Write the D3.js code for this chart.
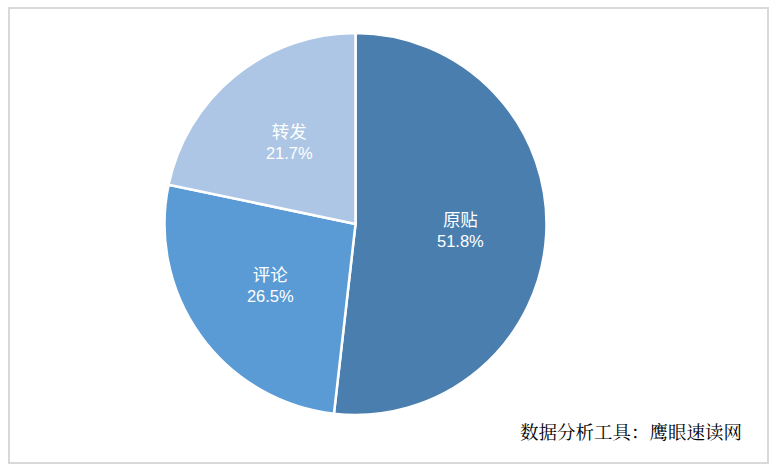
<!DOCTYPE html>
<html><head><meta charset="utf-8">
<script src="https://cdn.jsdelivr.net/npm/d3@7"></script>
<style>html,body{margin:0;padding:0;background:#fff;}</style>
</head><body>
<svg id="chart" width="779" height="476"></svg>
<script>
const categories = ["原贴", "评论", "转发"];
const values = [51.8, 26.5, 21.7];
const colors = ["#4a7eaf", "#5b9bd5", "#adc6e5"];
const sourceNote = "数据分析工具：鹰眼速读网";

const svg = d3.select("#chart");
svg.append("rect").attr("x", 9).attr("y", 8).attr("width", 759).attr("height", 455)
  .attr("fill", "#fff").attr("stroke", "#d9d9d9").attr("stroke-width", 2);

const cx = 355.5, cy = 224, r = 191;
const g = svg.append("g").attr("transform", `translate(${cx},${cy})`);
const data = categories.map((c, i) => ({ name: c, value: values[i], color: colors[i] }));
const pie = d3.pie().value(d => d.value).sort(null);
const arcs = pie(data);
const arc = d3.arc().innerRadius(0).outerRadius(r);
g.selectAll("path").data(arcs).join("path")
  .attr("d", arc).attr("fill", d => d.data.color)
  .attr("stroke", "#fff").attr("stroke-width", 2.5).attr("stroke-linejoin", "round");

const labelArc = d3.arc().innerRadius(r * 0.55).outerRadius(r * 0.55);
arcs.forEach(a => {
  const [x, y] = labelArc.centroid(a);
  const t = g.append("text").attr("text-anchor", "middle").attr("fill", "#fff");
  t.append("tspan").attr("x", x).attr("y", y - 4)
    .style("font-family", "'Noto Sans CJK SC', sans-serif").style("font-size", "17.5px")
    .text(a.data.name);
  t.append("tspan").attr("x", x).attr("y", y + 17)
    .style("font-family", "'Liberation Sans', Arial, sans-serif").style("font-size", "16.5px")
    .text(a.data.value.toFixed(1) + "%");
});

svg.append("text").attr("x", 631).attr("y", 439).attr("text-anchor", "middle")
  .style("font-family", "'Noto Serif CJK SC', serif, 'Noto Sans CJK SC'").style("font-size", "18.5px")
  .attr("fill", "#000").text(sourceNote);
</script>
</body></html>
